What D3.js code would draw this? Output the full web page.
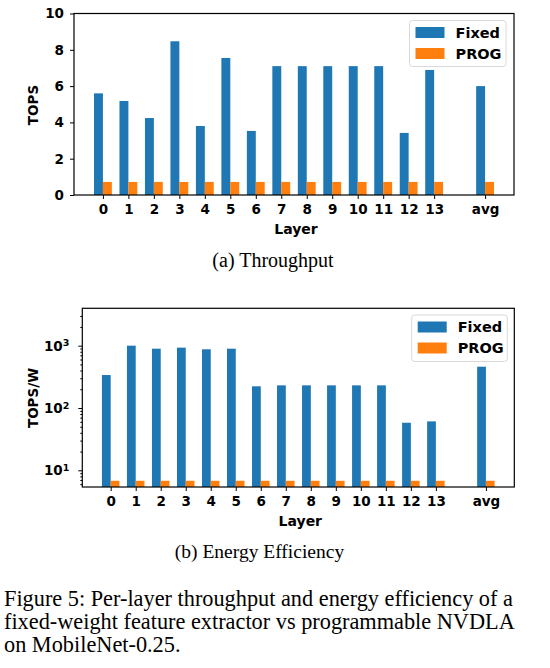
<!DOCTYPE html>
<html>
<head>
<meta charset="utf-8">
<script src="https://cdn.jsdelivr.net/npm/d3@7"></script>
<style>
  html, body { margin: 0; padding: 0; background: #fff; }
  svg { display: block; }
  .tick text { font-family: "DejaVu Sans", sans-serif; font-weight: bold; font-size: 13.5px; fill: #000; }
  .tick line { stroke: #000; stroke-width: 1; }
</style>
</head>
<body>
<svg id="chart" width="550" height="668"></svg>
<script>
// ---- data ----
const categories = ["0","1","2","3","4","5","6","7","8","9","10","11","12","13","avg"];
const positions  = [0,1,2,3,4,5,6,7,8,9,10,11,12,13,15];
const throughputFixed = [5.6, 5.18, 4.24, 8.47, 3.8, 7.55, 3.53, 7.1, 7.1, 7.1, 7.1, 7.1, 3.42, 6.89, 6.0];
const throughputProg  = [0.72,0.72,0.72,0.72,0.72,0.72,0.72,0.72,0.72,0.72,0.72,0.72,0.72,0.72,0.72];
const efficiencyFixed = [338, 1000, 895, 930, 875, 895, 223, 231, 231, 231, 231, 231, 58, 61, 460];
const efficiencyProg  = [6.8,6.8,6.8,6.8,6.8,6.8,6.8,6.8,6.8,6.8,6.8,6.8,6.8,6.8,6.8];
const seriesNames = ["Fixed", "PROG"];
const linearTicks = [0, 2, 4, 6, 8, 10];
const logMajorTicks = [10, 100, 1000];
const logMinorTicks = [6,7,8,9,20,30,40,50,60,70,80,90,200,300,400,500,600,700,800,900,2000,3000];

const colors = ["#1f77b4", "#ff7f0e"];
const barW = 0.35;

const svg = d3.select("#chart");

function drawPanel(opts) {
  const {left, right, top, bottom, y, fixed, prog, ylabel, isLog, legendBox} = opts;
  const x = d3.scaleLinear().domain([-1.135, 16.135]).range([left, right]);
  const g = svg.append("g");
  const base = isLog ? y.range()[0] : y(0);

  // bars
  const sets = [fixed, prog];
  sets.forEach((vals, si) => {
    g.selectAll(null).data(vals).enter().append("rect")
      .attr("x", (d, i) => si === 0 ? x(positions[i] - barW) : x(positions[i]))
      .attr("width", x(barW) - x(0))
      .attr("y", d => y(d))
      .attr("height", d => base - y(d))
      .attr("fill", colors[si]);
  });

  // x axis
  const xa = g.append("g").attr("transform", `translate(0,${bottom})`)
    .call(d3.axisBottom(x).tickValues(positions).tickFormat((d, i) => categories[i]).tickSize(4).tickSizeOuter(0).tickPadding(5));
  xa.select(".domain").remove();

  // y axis
  if (isLog) {
    const ya = g.append("g").attr("transform", `translate(${left},0)`)
      .call(d3.axisLeft(y).tickValues(logMajorTicks).tickFormat("").tickSize(4).tickSizeOuter(0));
    ya.select(".domain").remove();
    ya.selectAll(".tick").each(function(d) {
      const t = d3.select(this).append("text").attr("x", -13).attr("dy", "0.32em").attr("text-anchor", "end");
      t.append("tspan").text("10");
      t.append("tspan").attr("dy", "-0.45em").attr("font-size", "9.5px").text(String(Math.round(Math.log10(d))));
    });
    const ym = g.append("g").attr("transform", `translate(${left},0)`)
      .call(d3.axisLeft(y).tickValues(logMinorTicks).tickFormat("").tickSize(2).tickSizeOuter(0));
    ym.select(".domain").remove();
  } else {
    const ya = g.append("g").attr("transform", `translate(${left},0)`)
      .call(d3.axisLeft(y).tickValues(linearTicks).tickFormat(d3.format("d")).tickSize(4).tickSizeOuter(0).tickPadding(6));
    ya.select(".domain").remove();
  }

  // frame
  g.append("rect").attr("x", left).attr("y", top).attr("width", right - left).attr("height", bottom - top)
    .attr("fill", "none").attr("stroke", "#000").attr("stroke-width", 1.2);

  // axis labels
  g.append("text").attr("x", (left + right) / 2 + 2).attr("y", bottom + 39)
    .attr("text-anchor", "middle").attr("font-family", "DejaVu Sans").attr("font-weight", "bold").attr("font-size", "14px")
    .text("Layer");
  g.append("text").attr("transform", `translate(33,${opts.ylabelY}) rotate(-90)`)
    .attr("text-anchor", "middle").attr("dy", "0.35em").attr("font-family", "DejaVu Sans").attr("font-weight", "bold").attr("font-size", "13.5px")
    .text(ylabel);

  // legend
  const lb = legendBox;
  const lg = g.append("g");
  lg.append("rect").attr("x", lb.x).attr("y", lb.y).attr("width", lb.w).attr("height", lb.h)
    .attr("rx", 3).attr("fill", "#fff").attr("fill-opacity", 0.85).attr("stroke", "#d9d9d9").attr("stroke-width", 1);
  seriesNames.forEach((name, i) => {
    const cy = lb.y + 12 + i * 21;
    lg.append("rect").attr("x", lb.x + 6).attr("y", cy - 5.5).attr("width", 29).attr("height", 11).attr("fill", colors[i]);
    lg.append("text").attr("x", lb.x + 46).attr("y", cy).attr("dy", "0.35em")
      .attr("font-family", "DejaVu Sans").attr("font-weight", "bold").attr("font-size", "14.5px").text(name);
  });
}

// panel a
const yA = d3.scaleLinear().domain([0, 10]).range([195, 13.5]);
drawPanel({left: 74, right: 514, top: 13.5, bottom: 195, y: yA, fixed: throughputFixed, prog: throughputProg,
  ylabel: "TOPS", ylabelY: 105, isLog: false, legendBox: {x: 409.5, y: 20.5, w: 96.5, h: 46}});

// panel b
const yB = d3.scaleLog().domain([5.4, 3980]).range([487, 308.3]);
drawPanel({left: 82.3, right: 514.3, top: 308.3, bottom: 487, y: yB, fixed: efficiencyFixed, prog: efficiencyProg,
  ylabel: "TOPS/W", ylabelY: 398, isLog: true, legendBox: {x: 411.7, y: 315, w: 95.6, h: 46.5}});

// captions
const serif = "'Liberation Serif', 'Times New Roman', serif";
svg.append("text").attr("x", 273).attr("y", 267).attr("text-anchor", "middle")
  .attr("font-family", serif).attr("font-size", "20px").text("(a) Throughput");
svg.append("text").attr("x", 259.5).attr("y", 558).attr("text-anchor", "middle")
  .attr("font-family", serif).attr("font-size", "19.5px").text("(b) Energy Efficiency");
const capLines = [
  "Figure 5: Per-layer throughput and energy efficiency of a",
  "fixed-weight feature extractor vs programmable NVDLA",
  "on MobileNet-0.25."
];
svg.selectAll(null).data(capLines).enter().append("text")
  .attr("x", 4).attr("y", (d, i) => 605.7 + i * 23)
  .attr("font-family", serif).attr("font-size", "22.3px").text(d => d);
</script>
</body>
</html>
